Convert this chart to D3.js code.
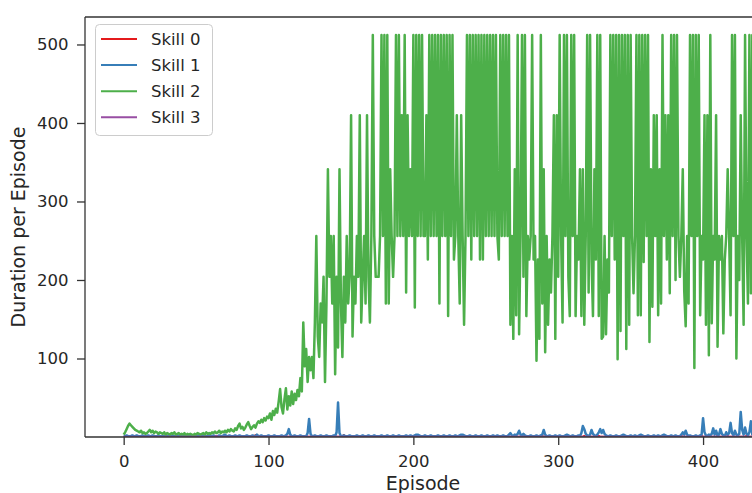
<!DOCTYPE html>
<html>
<head>
<meta charset="utf-8">
<script src="https://cdn.jsdelivr.net/npm/d3@7"></script>
<style>
  body { margin: 0; background: #fff; }
  text { font-family: "DejaVu Sans", sans-serif; fill: #262626; }
</style>
</head>
<body>
<script>
// Episode durations for each skill, one value per episode starting at episode 0
const skillNames = ["Skill 0", "Skill 1", "Skill 2", "Skill 3"];
const skillColors = ["#e41a1c", "#377eb8", "#4daf4a", "#984ea3"];
const xTicks = [0, 100, 200, 300, 400];
const yTicks = [100, 200, 300, 400, 500];

const skill0 = [
  0,0,1,0,0,0,0,1,0,0,0,0,0,1,0,0,0,0,0,1,
  0,0,0,0,1,0,0,0,0,0,0,1,0,0,0,0,0,0,1,0,
  0,0,0,1,0,0,0,0,0,0,1,0,0,0,0,0,0,1,0,0,
  0,1,0,0,0,0,0,0,1,0,0,0,0,1,0,0,0,0,0,0,
  1,0,0,0,0,0,1,0,0,0,0,2,0,0,0,0,0,1,0,0,
  0,0,0,1,0,0,0,0,0,0,1,0,0,0,0,0,1,0,0,0,
  0,0,0,0,1,0,0,0,0,0,0,1,0,0,0,0,0,0,1,0,
  0,0,0,0,0,1,0,0,0,0,0,0,2,0,0,0,0,1,0,0,
  0,0,0,1,0,0,0,0,0,0,1,0,0,0,0,0,0,0,1,0,
  0,0,1,0,0,0,0,0,0,1,0,0,0,0,0,0,1,0,0,0,
  0,0,0,0,1,0,0,0,0,0,0,1,0,0,0,0,0,0,1,0,
  0,1,0,0,0,0,0,0,0,1,0,0,0,0,0,1,0,0,0,0,
  0,0,0,1,0,0,0,0,0,0,0,1,0,0,0,0,0,0,1,0,
  0,0,0,0,1,0,0,0,0,0,1,0,0,0,0,0,0,1,0,0,
  0,0,1,0,0,0,0,0,0,1,0,0,0,0,0,0,1,0,0,0,
  0,0,0,1,0,0,0,0,0,0,1,0,0,0,0,0,0,0,1,0,
  0,1,0,0,0,0,0,0,1,0,0,0,0,0,1,0,0,0,0,0,
  0,0,0,0,1,0,0,0,0,0,0,1,0,0,0,0,0,1,0,0,
  0,0,1,0,0,0,0,0,0,1,0,0,0,0,0,0,1,0,0,0,
  0,0,0,0,0,1,0,0,0,0,0,0,1,0,0,0,0,0,0,1,
  0,0,0,1,0,0,0,0,0,0,1,0,0,0,0,0,0,1,0,0,
  0,0,0,0,1,0,0,0,0,0,1,0,0,0,0,0
];

const skill1 = [
  1,1,2,1,1,1,2,1,1,2,1,1,1,2,1,1,1,2,1,1,
  2,1,1,1,2,1,1,1,1,2,1,1,2,1,1,1,1,2,1,1,
  1,2,1,1,1,1,2,1,1,1,2,1,1,1,1,2,1,1,1,2,
  1,1,2,1,1,1,2,1,1,2,3,1,1,2,1,1,1,2,1,1,
  2,1,1,1,1,2,1,1,1,2,1,1,3,1,1,2,1,1,1,1,
  2,1,1,1,2,1,1,1,1,2,1,1,2,4,10,3,1,1,2,1,
  1,1,2,1,1,1,1,5,23,4,1,1,2,1,1,1,2,1,1,1,
  2,1,1,1,1,2,1,6,44,5,1,1,2,1,1,1,2,1,1,1,
  1,2,1,1,1,2,1,1,1,2,1,1,1,2,1,1,1,1,2,1,
  1,1,2,1,1,1,2,1,1,1,2,1,1,1,1,2,1,1,2,1,
  1,2,3,3,2,1,1,1,2,1,1,1,2,1,1,1,1,2,1,1,
  1,2,1,1,1,2,1,1,1,2,1,1,2,3,3,2,1,1,1,2,
  1,1,1,2,1,1,1,2,1,1,1,2,1,1,1,2,1,1,2,1,
  1,1,2,1,1,1,3,5,2,1,3,2,4,8,3,2,4,2,1,1,
  1,2,1,1,1,2,1,1,2,3,9,3,1,1,2,1,1,1,2,1,
  1,2,1,1,1,2,3,2,1,1,2,1,1,1,2,1,5,14,10,4,
  2,1,3,9,4,2,1,3,6,10,5,9,4,2,1,1,2,1,1,1,
  2,1,1,1,2,3,2,1,1,1,2,1,1,2,1,1,2,3,2,1,
  1,1,2,1,1,1,2,1,1,2,1,1,2,3,2,1,1,1,2,1,
  1,2,1,1,1,3,6,3,8,3,1,2,1,1,1,2,1,1,2,3,
  24,6,2,1,3,2,4,11,3,8,2,3,10,4,2,1,6,3,5,18,
  5,2,8,3,2,4,32,9,3,12,4,2,6,20,3,5
];

const skill2 = [
  3,6,10,14,17,15,13,11,9,8,
  7,6,8,5,6,4,5,7,9,6,
  8,5,7,6,4,6,5,4,6,3,
  5,4,3,5,4,6,3,4,5,3,
  4,3,5,2,4,3,4,3,2,4,
  3,5,4,3,4,5,3,6,4,5,
  4,6,5,7,5,6,8,5,7,6,
  8,6,9,7,10,8,7,11,9,14,
  17,11,13,9,12,16,19,14,10,13,
  15,12,17,20,18,22,19,24,21,26,
  24,30,22,33,28,36,31,45,61,38,
  30,48,62,35,52,40,58,42,55,47,
  60,52,75,58,146,90,112,70,102,85,
  102,75,146,256,128,102,170,146,204,70,
  170,341,204,256,170,256,80,204,114,341,
  170,102,204,146,256,170,204,410,128,204,
  170,256,204,410,146,204,256,170,410,204,
  146,256,512,256,204,204,204,256,512,256,
  512,170,512,170,341,256,204,256,512,256,
  512,256,410,256,512,184,410,256,341,256,
  512,165,512,256,512,256,512,256,256,410,
  226,512,256,512,256,512,256,512,170,512,
  256,512,256,512,154,512,256,512,226,256,
  410,256,170,410,256,143,256,512,256,512,
  226,512,256,512,256,512,226,512,226,512,
  256,512,256,512,256,512,256,512,256,226,
  512,256,512,256,512,256,512,143,256,125,
  341,155,512,131,256,512,204,512,154,256,
  226,256,512,226,256,97,226,125,512,170,
  341,108,256,143,226,184,256,410,125,410,
  204,512,256,146,512,256,512,204,154,512,
  256,512,154,256,226,341,154,341,143,256,
  512,184,512,226,154,341,226,512,154,512,
  125,128,256,131,226,184,512,256,512,226,
  512,99,512,135,512,256,512,112,512,143,
  512,256,183,256,512,155,512,155,512,223,
  512,256,512,121,341,166,410,256,410,155,
  341,170,512,256,410,226,410,183,512,256,
  512,200,512,256,204,256,341,186,141,256,
  170,512,256,512,88,512,256,512,155,256,
  226,410,143,410,104,512,145,256,226,410,
  115,256,226,256,132,226,256,341,256,155,
  512,256,512,100,256,200,410,256,143,512,
  256,170,512,183,512,256
];

const skill3 = [
  0,0,0,0,0,0,0,0,0,0,0,0,0,0,0,0,0,0,0,0,
  0,0,0,0,0,0,0,0,0,0,0,0,0,0,0,0,0,0,0,0,
  0,0,0,0,0,0,0,0,0,0,0,0,0,0,0,0,0,0,0,0,
  0,0,0,0,1,0,0,0,0,0,0,0,0,0,0,0,0,0,0,0,
  0,0,0,0,0,0,0,0,0,0,0,0,0,0,0,0,0,0,0,0,
  0,0,0,0,0,0,0,0,0,0,0,0,0,0,0,0,0,0,0,0,
  0,0,0,0,0,0,0,0,0,0,0,0,0,0,0,0,0,0,0,0,
  0,0,0,0,0,0,0,0,0,0,0,0,0,0,0,0,0,0,0,0,
  0,0,0,0,0,0,0,0,0,0,0,0,0,0,0,0,0,0,0,0,
  0,0,0,0,0,0,0,0,0,0,0,0,0,0,0,0,0,0,0,0,
  0,0,0,0,0,0,0,0,0,0,0,0,0,0,0,0,0,0,0,0,
  0,0,0,0,0,0,0,0,0,0,0,0,0,0,0,0,0,0,0,0,
  0,0,0,0,0,0,0,0,0,0,0,0,0,0,0,0,0,0,0,0,
  0,0,0,0,0,0,0,0,0,0,0,0,0,0,0,0,0,0,0,0,
  0,0,0,0,0,0,0,0,0,0,0,0,0,0,0,0,0,0,0,0,
  0,0,0,0,0,0,0,0,0,0,0,0,0,0,0,0,0,0,0,0,
  0,0,0,0,0,0,0,0,0,0,0,0,0,0,0,0,0,0,0,0,
  0,0,0,0,0,0,0,0,0,0,0,0,0,0,0,0,0,0,0,0,
  0,0,0,0,0,0,0,0,0,0,0,0,0,0,0,0,0,0,0,0,
  0,0,0,0,0,0,0,0,0,0,0,0,0,0,0,0,0,0,0,0,
  0,0,0,0,0,0,0,0,0,0,0,0,0,0,0,0,0,0,0,0,
  0,0,0,0,0,0,0,0,0,0,0,0,0,0,0,0
];

const seriesValues = [skill0, skill1, skill2, skill3];

const W = 752, H = 493;
const plot = { left: 85, top: 17, right: 761, bottom: 437 };

const svg = d3.select("body").append("svg")
  .attr("width", W).attr("height", H)
  .attr("viewBox", `0 0 ${W} ${H}`);

const x = d3.scaleLinear().domain([-26.7, 440]).range([plot.left, plot.right]);
const y = d3.scaleLinear().domain([0, 535]).range([plot.bottom, plot.top]);

svg.append("defs").append("clipPath").attr("id", "plot-clip")
  .append("rect")
  .attr("x", plot.left).attr("y", plot.top)
  .attr("width", plot.right - plot.left).attr("height", plot.bottom - plot.top);

// Data lines
const line = d3.line().x((d, i) => x(i)).y(d => y(d));
const lines = svg.append("g").attr("clip-path", "url(#plot-clip)");
seriesValues.forEach((vals, k) => {
  lines.append("path")
    .datum(vals)
    .attr("d", line)
    .attr("fill", "none")
    .attr("stroke", skillColors[k])
    .attr("stroke-width", 2.5)
    .attr("stroke-linejoin", "round");
});

// Axes
const axisColor = "#333";
const xAxis = svg.append("g")
  .attr("transform", `translate(0,${plot.bottom})`)
  .call(d3.axisBottom(x).tickValues(xTicks).tickSize(8).tickPadding(10).tickSizeOuter(0));
const yAxis = svg.append("g")
  .attr("transform", `translate(${plot.left},0)`)
  .call(d3.axisLeft(y).tickValues(yTicks).tickSize(8).tickPadding(8.5).tickSizeOuter(0));

[xAxis, yAxis].forEach(g => {
  g.select(".domain").remove();
  g.selectAll(".tick line").attr("stroke", axisColor).attr("stroke-width", 1.3);
  g.selectAll(".tick text")
    .style("font-family", "'DejaVu Sans', sans-serif")
    .style("font-size", "16.5px")
    .attr("fill", "#262626");
});

// Spines: left, top and bottom
const spines = svg.append("g").attr("stroke", axisColor).attr("stroke-width", 1.3).attr("fill", "none");
spines.append("line").attr("x1", plot.left).attr("x2", plot.left).attr("y1", plot.top).attr("y2", plot.bottom);
spines.append("line").attr("x1", plot.left).attr("x2", plot.right).attr("y1", plot.top).attr("y2", plot.top);
spines.append("line").attr("x1", plot.left).attr("x2", plot.right).attr("y1", plot.bottom).attr("y2", plot.bottom);

// Axis titles
svg.append("text")
  .attr("x", (plot.left + plot.right) / 2)
  .attr("y", 490)
  .attr("text-anchor", "middle")
  .style("font-size", "19px")
  .text("Episode");

svg.append("text")
  .attr("transform", `translate(25,${(plot.top + plot.bottom) / 2}) rotate(-90)`)
  .attr("text-anchor", "middle")
  .style("font-size", "19px")
  .text("Duration per Episode");

// Legend
const legend = svg.append("g");
legend.append("rect")
  .attr("x", 95.5).attr("y", 24.5)
  .attr("width", 117).attr("height", 111)
  .attr("rx", 4)
  .attr("fill", "#fff").attr("fill-opacity", 0.8)
  .attr("stroke", "#cccccc").attr("stroke-width", 1);
skillNames.forEach((name, k) => {
  const ly = 39 + k * 26.1;
  legend.append("line")
    .attr("x1", 101).attr("x2", 137).attr("y1", ly).attr("y2", ly)
    .attr("stroke", skillColors[k]).attr("stroke-width", 2);
  legend.append("text")
    .attr("x", 151).attr("y", ly)
    .attr("dy", "0.36em")
    .style("font-size", "16.5px")
    .text(name);
});
</script>
</body>
</html>
